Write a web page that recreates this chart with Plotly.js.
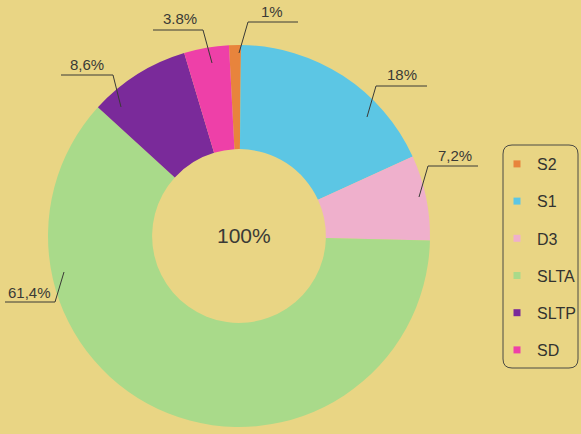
<!DOCTYPE html>
<html>
<head>
<meta charset="utf-8">
<script src="https://cdn.plot.ly/plotly-3.0.1.min.js"></script>
<style>html,body{margin:0;padding:0;background:#E9D584;}#chart{width:581px;height:434px;}</style>
</head>
<body>
<div id="chart"></div>
<script>
// ---- data ----
var labels = ['S2', 'S1', 'D3', 'SLTA', 'SLTP', 'SD'];
var values = [1, 18, 7.2, 61.4, 8.6, 3.8];
var valueText = ['1%', '18%', '7,2%', '61,4%', '8,6%', '3.8%'];
var colors = ['#E8843C', '#5CC6E4', '#EFB0CC', '#A9DA8A', '#7A2A9A', '#EE40A8'];
var centerText = '100%';

// ---- layout helpers (pixel -> paper) ----
var W = 581, H = 434;
function X(px) { return px / W; }
function Y(py) { return 1 - py / H; }

// label placement (text centre, underline start/end, leader tip) in pixels
var labelGeom = [
  {tx: 272, ty: 12, ux0: 248, ux1: 298, uy: 22, lx: 248, px: 239, py: 53},   // S2
  {tx: 402, ty: 75, ux0: 376, ux1: 427, uy: 86, lx: 376, px: 367, py: 117},  // S1
  {tx: 455, ty: 155, ux0: 428, ux1: 478, uy: 166, lx: 428, px: 419, py: 197},// D3
  {tx: 29, ty: 292, ux0: 5, ux1: 55, uy: 302, lx: 55, px: 64, py: 272},      // SLTA
  {tx: 87, ty: 64, ux0: 61, ux1: 113, uy: 75, lx: 113, px: 121, py: 107},    // SLTP
  {tx: 180, ty: 18, ux0: 153, ux1: 203, uy: 30, lx: 203, px: 212, py: 63}    // SD
];

var pie = {
  type: 'pie',
  labels: labels,
  values: values,
  sort: false,
  direction: 'clockwise',
  rotation: -3,
  hole: 0.455,
  marker: {colors: colors, line: {width: 0}},
  textinfo: 'none',
  hoverinfo: 'none',
  showlegend: false,
  domain: {x: [X(48), X(430)], y: [Y(427), Y(45)]}
};

// legend entries (one per category, drawn by the legend)
var legendTraces = labels.map(function (lab, i) {
  return {
    type: 'scatter', mode: 'markers', x: [null], y: [null],
    name: lab, legendgroup: lab,
    marker: {symbol: 'square', size: 7, color: colors[i]},
    hoverinfo: 'skip', showlegend: true
  };
});

var annotations = labelGeom.map(function (g, i) {
  return {
    xref: 'paper', yref: 'paper', x: X(g.tx), y: Y(g.ty),
    xanchor: 'center', yanchor: 'middle', showarrow: false,
    text: valueText[i],
    font: {family: 'Liberation Sans, Arial, sans-serif', size: 15, color: '#3a3a36'}
  };
});
annotations.push({
  xref: 'paper', yref: 'paper', x: X(244), y: Y(235),
  xanchor: 'center', yanchor: 'middle', showarrow: false,
  text: centerText,
  font: {family: 'Liberation Sans, Arial, sans-serif', size: 21, color: '#3a3a36'}
});

var shapes = labelGeom.map(function (g) {
  var other = (g.lx === g.ux0) ? g.ux1 : g.ux0;
  return {
    type: 'path', xref: 'paper', yref: 'paper',
    path: 'M ' + X(g.px) + ',' + Y(g.py) + ' L ' + X(g.lx) + ',' + Y(g.uy) + ' L ' + X(other) + ',' + Y(g.uy),
    line: {color: '#3a3a36', width: 1}
  };
});

// rounded legend frame
(function () {
  var l = 503, r = 578, t = 145, b = 368, k = 9;
  var p = 'M ' + X(l + k) + ',' + Y(t) +
    ' L ' + X(r - k) + ',' + Y(t) +
    ' Q ' + X(r) + ',' + Y(t) + ' ' + X(r) + ',' + Y(t + k) +
    ' L ' + X(r) + ',' + Y(b - k) +
    ' Q ' + X(r) + ',' + Y(b) + ' ' + X(r - k) + ',' + Y(b) +
    ' L ' + X(l + k) + ',' + Y(b) +
    ' Q ' + X(l) + ',' + Y(b) + ' ' + X(l) + ',' + Y(b - k) +
    ' L ' + X(l) + ',' + Y(t + k) +
    ' Q ' + X(l) + ',' + Y(t) + ' ' + X(l + k) + ',' + Y(t) + ' Z';
  shapes.push({type: 'path', xref: 'paper', yref: 'paper', path: p,
    line: {color: '#4a4a44', width: 1}, fillcolor: 'rgba(0,0,0,0)'});
})();

var layout = {
  width: W, height: H,
  margin: {l: 0, r: 0, t: 0, b: 0},
  paper_bgcolor: '#E9D584',
  plot_bgcolor: 'rgba(0,0,0,0)',
  xaxis: {visible: false, domain: [0, 1]},
  yaxis: {visible: false, domain: [0, 1]},
  showlegend: true,
  legend: {
    x: X(497), y: Y(147), xanchor: 'left', yanchor: 'top',
    bgcolor: 'rgba(0,0,0,0)', borderwidth: 0,
    tracegroupgap: 13.4,
    font: {family: 'Liberation Sans, Arial, sans-serif', size: 16, color: '#333330'}
  },
  annotations: annotations,
  shapes: shapes
};

Plotly.newPlot('chart', [pie].concat(legendTraces), layout, {displayModeBar: false, staticPlot: true});
</script>
</body>
</html>
